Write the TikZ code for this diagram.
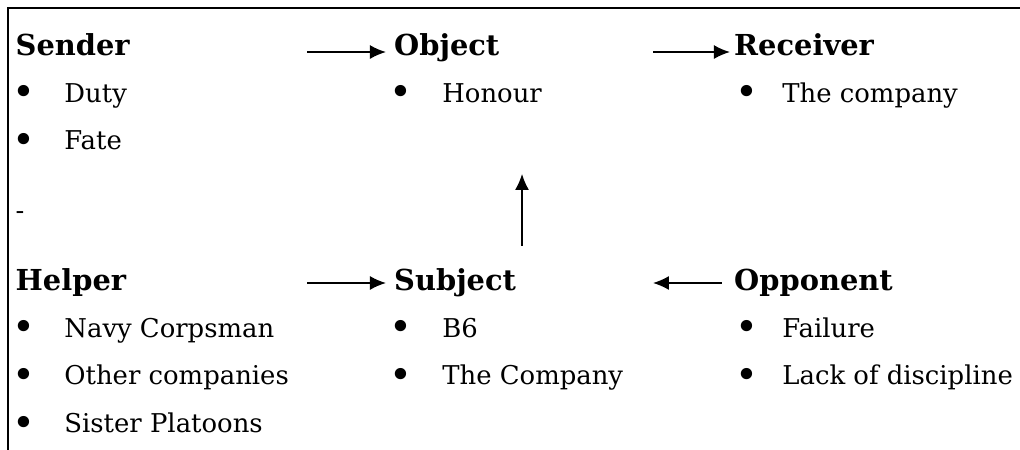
\documentclass[tikz,border=0pt]{standalone}
\usepackage{fontspec}
\setmainfont{DejaVu Serif}
\usepackage{graphicx}
\usepackage{tikz}
\usetikzlibrary{arrows.meta}
\usetikzlibrary{positioning}

\newcommand{\bul}[1][0.92cm]{\makebox[#1][l]{\raisebox{-2pt}{\scalebox{1.5}{\textbullet}}}}

\tikzset{
  head/.style={font=\fontsize{14.5}{16}\selectfont\bfseries, anchor=base west, inner sep=0pt},
  entry/.style={font=\fontsize{13}{15}\selectfont, anchor=base west, inner sep=0pt},
  arr/.style={-{Latex[length=8pt,width=7pt]}, line width=0.65pt}
}

\begin{document}
\begin{tikzpicture}
    \useasboundingbox (0, 0) rectangle (18, -7.941);
    \draw [line width=0.6pt] (0.141, -7.941) -- (0.141, -0.141) -- (18, -0.141);

    % upper row
    \node [head] (sender) at (0.27, -0.971) {Sender};
    \node [entry] (duty) at (0.21, -1.8) {\bul Duty};
    \node [entry] (fate) at (0.21, -2.647) {\bul Fate};
    \node [entry] (dash) at (0.27, -3.882) {-};

    \node [head] (object) at (6.95, -0.971) {Object};
    \node [entry] (honour) at (6.87, -1.8) {\bul[0.93cm]Honour};

    \node [head] (receiver) at (12.95, -0.971) {Receiver};
    \node [entry] (company) at (12.97, -1.8) {\bul[0.83cm]The company};

    % lower row
    \node [head] (helper) at (0.27, -5.118) {Helper};
    \node [entry] (corpsman) at (0.21, -5.947) {\bul Navy Corpsman};
    \node [entry] (others) at (0.21, -6.794) {\bul Other companies};
    \node [entry] (sisters) at (0.21, -7.641) {\bul Sister Platoons};

    \node [head] (subject) at (6.95, -5.118) {Subject};
    \node [entry] (bsix) at (6.87, -5.947) {\bul[0.93cm]B6};
    \node [entry] (thecompany) at (6.87, -6.794) {\bul[0.93cm]The Company};

    \node [head] (opponent) at (12.95, -5.118) {Opponent};
    \node [entry] (failure) at (12.97, -5.947) {\bul[0.83cm]Failure};
    \node [entry] (discipline) at (12.97, -6.794) {\bul[0.83cm]Lack of discipline};

    % arrows
    \coordinate (sendtail) at (5.418, -0.918);
    \coordinate (objtail) at (11.524, -0.918);
    \coordinate (helptail) at (5.418, -4.994);
    \coordinate (opptip) at (11.524, -4.994);
    \coordinate (uptip) at (9.212, -3.071);

    \draw [arr, shorten >=4pt] (sendtail) -- (sendtail -| object.west);
    \draw [arr, shorten >=2pt] (objtail) -- (objtail -| receiver.west);
    \draw [arr, shorten >=4pt] (helptail) -- (helptail -| subject.west);
    \draw [arr, shorten <=6pt] (opptip -| opponent.west) -- (opptip);
    \draw [arr, shorten <=11pt] (uptip |- subject.north) -- (uptip);
  \end{tikzpicture}
\end{document}
